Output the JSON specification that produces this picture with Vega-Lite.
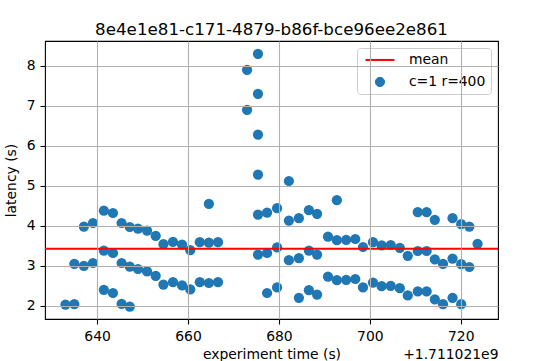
{
  "$schema": "https://vega.github.io/schema/vega-lite/v6.json",
  "width": 453,
  "height": 278,
  "autosize": {"type": "none"},
  "padding": {"left": 45, "top": 41, "right": 45, "bottom": 42},
  "background": "white",
  "title": {"text": "8e4e1e81-c171-4879-b86f-bce96ee2e861", "font": "DejaVu Sans", "fontSize": 16.7, "fontWeight": "normal", "color": "black", "offset": 2},
  "config": {
    "view": {"stroke": "black", "strokeWidth": 1.1},
    "axis": {
      "domain": false,
      "tickColor": "black", "tickSize": 5, "tickWidth": 1.1,
      "gridColor": "#b0b0b0", "gridWidth": 1.1, "gridOpacity": 1,
      "labelFont": "DejaVu Sans", "labelFontSize": 13.9, "labelColor": "black",
      "titleFont": "DejaVu Sans", "titleFontSize": 13.9, "titleFontWeight": "normal", "titleColor": "black"
    },
    "legend": {
      "orient": "top-right", "offset": 7, "padding": 5,
      "fillColor": "rgba(255,255,255,0.8)", "strokeColor": "#cccccc", "cornerRadius": 3,
      "labelFont": "DejaVu Sans", "labelFontSize": 13.9, "labelColor": "black",
      "symbolSize": 60, "symbolOffset": 11, "labelOffset": 22, "rowPadding": 7
    }
  },
  "data": {"values": [
    {"t": 1711021633.05, "latency": 2.03},
    {"t": 1711021635.0, "latency": 2.04}, {"t": 1711021635.0, "latency": 3.05},
    {"t": 1711021637.1, "latency": 3.00}, {"t": 1711021637.1, "latency": 3.98},
    {"t": 1711021639.1, "latency": 3.07}, {"t": 1711021639.1, "latency": 4.07},
    {"t": 1711021641.5, "latency": 4.38}, {"t": 1711021641.5, "latency": 3.38}, {"t": 1711021641.5, "latency": 2.40},
    {"t": 1711021643.5, "latency": 4.32}, {"t": 1711021643.5, "latency": 3.32}, {"t": 1711021643.5, "latency": 2.32},
    {"t": 1711021645.4, "latency": 4.07}, {"t": 1711021645.4, "latency": 3.07}, {"t": 1711021645.4, "latency": 2.05},
    {"t": 1711021647.2, "latency": 3.97}, {"t": 1711021647.2, "latency": 2.98}, {"t": 1711021647.2, "latency": 1.98},
    {"t": 1711021649.0, "latency": 3.93}, {"t": 1711021649.0, "latency": 2.92},
    {"t": 1711021651.0, "latency": 3.88}, {"t": 1711021651.0, "latency": 2.86},
    {"t": 1711021652.9, "latency": 3.75}, {"t": 1711021652.9, "latency": 2.75},
    {"t": 1711021654.6, "latency": 3.54}, {"t": 1711021654.6, "latency": 2.53},
    {"t": 1711021656.7, "latency": 3.60}, {"t": 1711021656.7, "latency": 2.59},
    {"t": 1711021658.7, "latency": 3.53}, {"t": 1711021658.7, "latency": 2.51},
    {"t": 1711021660.5, "latency": 3.39}, {"t": 1711021660.5, "latency": 2.41},
    {"t": 1711021662.6, "latency": 3.59}, {"t": 1711021662.6, "latency": 2.59},
    {"t": 1711021664.6, "latency": 4.55}, {"t": 1711021664.6, "latency": 3.58}, {"t": 1711021664.6, "latency": 2.57},
    {"t": 1711021666.6, "latency": 3.59}, {"t": 1711021666.6, "latency": 2.59},
    {"t": 1711021673.0, "latency": 7.90}, {"t": 1711021673.0, "latency": 6.90},
    {"t": 1711021675.4, "latency": 8.30}, {"t": 1711021675.4, "latency": 7.30}, {"t": 1711021675.4, "latency": 6.28},
    {"t": 1711021675.4, "latency": 5.28}, {"t": 1711021675.4, "latency": 4.28}, {"t": 1711021675.4, "latency": 3.28},
    {"t": 1711021677.4, "latency": 4.33}, {"t": 1711021677.4, "latency": 3.32}, {"t": 1711021677.4, "latency": 2.32},
    {"t": 1711021679.6, "latency": 4.44}, {"t": 1711021679.6, "latency": 3.46}, {"t": 1711021679.6, "latency": 2.46},
    {"t": 1711021682.2, "latency": 5.12}, {"t": 1711021682.2, "latency": 4.13}, {"t": 1711021682.2, "latency": 3.14},
    {"t": 1711021684.4, "latency": 4.19}, {"t": 1711021684.4, "latency": 3.19}, {"t": 1711021684.4, "latency": 2.20},
    {"t": 1711021686.6, "latency": 4.39}, {"t": 1711021686.6, "latency": 3.38}, {"t": 1711021686.6, "latency": 2.39},
    {"t": 1711021688.4, "latency": 4.30}, {"t": 1711021688.4, "latency": 3.28}, {"t": 1711021688.4, "latency": 2.28},
    {"t": 1711021690.8, "latency": 3.73}, {"t": 1711021690.8, "latency": 2.73},
    {"t": 1711021692.75, "latency": 4.64}, {"t": 1711021692.75, "latency": 3.64}, {"t": 1711021692.75, "latency": 2.64},
    {"t": 1711021694.8, "latency": 3.65}, {"t": 1711021694.8, "latency": 2.65},
    {"t": 1711021696.8, "latency": 3.67}, {"t": 1711021696.8, "latency": 2.67},
    {"t": 1711021698.5, "latency": 3.47}, {"t": 1711021698.5, "latency": 2.46},
    {"t": 1711021700.7, "latency": 3.59}, {"t": 1711021700.7, "latency": 2.58},
    {"t": 1711021702.6, "latency": 3.51}, {"t": 1711021702.6, "latency": 2.49},
    {"t": 1711021704.6, "latency": 3.52}, {"t": 1711021704.6, "latency": 2.50},
    {"t": 1711021706.6, "latency": 3.45}, {"t": 1711021706.6, "latency": 2.44},
    {"t": 1711021708.35, "latency": 3.25}, {"t": 1711021708.35, "latency": 2.26},
    {"t": 1711021710.55, "latency": 4.34}, {"t": 1711021710.55, "latency": 3.37}, {"t": 1711021710.55, "latency": 2.36},
    {"t": 1711021712.5, "latency": 4.34}, {"t": 1711021712.5, "latency": 3.37}, {"t": 1711021712.5, "latency": 2.36},
    {"t": 1711021714.3, "latency": 4.15}, {"t": 1711021714.3, "latency": 3.16}, {"t": 1711021714.3, "latency": 2.16},
    {"t": 1711021716.1, "latency": 3.05}, {"t": 1711021716.1, "latency": 2.04},
    {"t": 1711021718.2, "latency": 4.19}, {"t": 1711021718.2, "latency": 3.18}, {"t": 1711021718.2, "latency": 2.20},
    {"t": 1711021720.1, "latency": 4.04}, {"t": 1711021720.1, "latency": 3.04}, {"t": 1711021720.1, "latency": 2.04},
    {"t": 1711021721.9, "latency": 3.98}, {"t": 1711021721.9, "latency": 2.97},
    {"t": 1711021723.7, "latency": 3.55}
  ]},
  "resolve": {"axis": {"x": "independent"}},
  "layer": [
    {
      "mark": {"type": "point", "filled": true, "shape": "circle", "size": 105, "opacity": 1},
      "encoding": {
        "x": {
          "field": "t", "type": "quantitative",
          "scale": {"domain": [1711021628.55, 1711021728.2], "nice": false, "zero": false},
          "axis": {
            "orient": "bottom",
            "values": [1711021640, 1711021660, 1711021680, 1711021700, 1711021720],
            "labelExpr": "format(datum.value - 1711021000, 'd')",
            "title": "experiment time (s)",
            "labelPadding": 5, "titleBaseline": "top", "titleY": 28,
            "grid": true, "zindex": 1
          }
        },
        "y": {
          "field": "latency", "type": "quantitative",
          "scale": {"domain": [1.67, 8.62], "nice": false, "zero": false},
          "axis": {
            "values": [2, 3, 4, 5, 6, 7, 8],
            "title": "latency (s)",
            "labelPadding": 5, "titlePadding": 8,
            "grid": true, "zindex": 1
          }
        },
        "color": {
          "datum": "c=1 r=400",
          "title": null,
          "scale": {"domain": ["mean", "c=1 r=400"], "range": ["#ff0000", "#1f77b4"]},
          "legend": {
            "title": null,
            "encode": {
              "symbols": {
                "update": {
                  "shape": {"signal": "datum.value === 'mean' ? 'stroke' : 'circle'"},
                  "size": {"signal": "datum.value === 'mean' ? 841 : 85"},
                  "stroke": {"signal": "datum.value === 'mean' ? '#ff0000' : '#1f77b4'"},
                  "strokeWidth": {"signal": "datum.value === 'mean' ? 2 : 1"},
                  "fill": {"signal": "datum.value === 'mean' ? 'transparent' : '#1f77b4'"},
                  "opacity": {"value": 1}
                }
              }
            }
          }
        }
      }
    },
    {
      "data": {"values": [{"series": "mean", "latency": 3.425}]},
      "mark": {"type": "rule", "strokeWidth": 2},
      "encoding": {
        "y": {"field": "latency", "type": "quantitative"},
        "color": {
          "field": "series", "type": "nominal", "title": null,
          "legend": {
            "title": null,
            "encode": {
              "symbols": {
                "update": {
                  "shape": {"signal": "datum.value === 'mean' ? 'stroke' : 'circle'"},
                  "size": {"signal": "datum.value === 'mean' ? 841 : 85"},
                  "stroke": {"signal": "datum.value === 'mean' ? '#ff0000' : '#1f77b4'"},
                  "strokeWidth": {"signal": "datum.value === 'mean' ? 2 : 1"},
                  "fill": {"signal": "datum.value === 'mean' ? 'transparent' : '#1f77b4'"},
                  "opacity": {"value": 1}
                }
              }
            }
          }
        }
      }
    },
    {
      "mark": {"type": "point", "opacity": 0},
      "encoding": {
        "x": {
          "field": "t", "type": "quantitative",
          "axis": {
            "orient": "bottom", "labels": false, "ticks": false, "domain": false, "grid": false,
            "title": "+1.711021e9", "titleAnchor": "end", "titleBaseline": "top", "titleY": 28
          }
        }
      }
    }
  ]
}
